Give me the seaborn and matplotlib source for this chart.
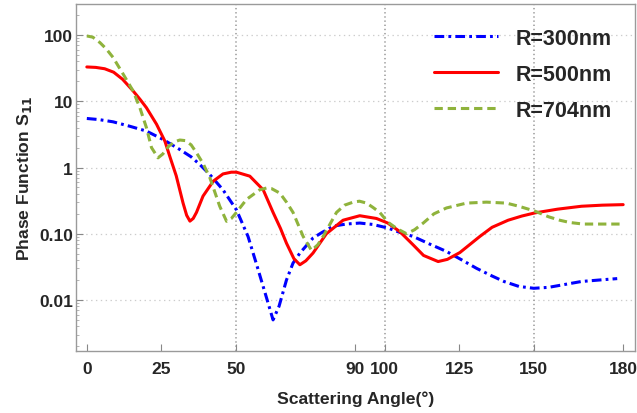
import numpy as np
import pandas as pd
import seaborn as sns
import matplotlib.pyplot as plt
from matplotlib.ticker import FixedLocator, LogLocator, NullFormatter

# data
ang_300 = [0, 4, 8.8, 14.4, 20, 25.6, 31.2, 35, 38, 41.3, 45.7, 50.2, 54.1, 57, 60, 62.5, 64.5,
           67, 69.2, 71.5, 75.9, 79, 82.7, 87, 91.6, 96, 101, 105, 109.5, 115, 120.7, 125.5,
           130.8, 136, 140, 145, 150, 155, 160, 166, 172, 178]
s11_300 = [5.5, 5.3, 4.9, 4.2, 3.55, 2.65, 1.87, 1.45, 1.1, 0.78, 0.46, 0.23, 0.091, 0.034,
           0.012, 0.005, 0.008, 0.02, 0.036, 0.051, 0.086, 0.105, 0.13, 0.14, 0.145, 0.138,
           0.122, 0.105, 0.091, 0.07, 0.054, 0.041, 0.030, 0.023, 0.019, 0.016, 0.015, 0.0155,
           0.017, 0.019, 0.020, 0.021]

ang_500 = [0, 3, 6, 9, 12, 15.5, 18, 20, 23.4, 26.2, 28, 30, 32.3, 33.5, 34.6, 35.7, 36.8, 39,
           42.4, 45.7, 48.5, 50.2, 54.7, 59.2, 62.5, 65, 67, 69.5, 71.5, 73.5, 75.9, 80.4, 86,
           91.6, 97.2, 101, 105, 109.5, 113, 117.9, 121, 125.2, 131.9, 136, 141.4, 146, 150.3,
           158, 166, 173, 180]
s11_500 = [33, 32.5, 31, 27.5, 21.5, 14.4, 10.5, 8.0, 4.5, 2.5, 1.4, 0.75, 0.29, 0.19, 0.155,
           0.17, 0.21, 0.37, 0.62, 0.80, 0.85, 0.85, 0.74, 0.46, 0.21, 0.12, 0.072, 0.042, 0.034,
           0.039, 0.051, 0.10, 0.16, 0.187, 0.17, 0.145, 0.108, 0.068, 0.047, 0.038, 0.041,
           0.052, 0.091, 0.125, 0.16, 0.185, 0.206, 0.235, 0.26, 0.27, 0.275]

ang_704 = [0, 2, 4.4, 6.5, 8.8, 12.2, 15.5, 17.8, 20, 21.7, 23.9, 25.5, 27.5, 29.5, 31.2, 33,
           35, 36.8, 39, 41.3, 43, 44.6, 46.9, 48.5, 50.2, 53.6, 58, 60.3, 62, 64.8, 67, 69.2,
           72.6, 75.4, 77.5, 79.3, 83.8, 86.5, 89.4, 91.5, 93.9, 96, 98.3, 101, 104, 107.3, 110,
           112.9, 116.5, 120.7, 127.4, 134.1, 140.8, 145, 150.3, 155, 158.7, 162, 166.5, 172, 179]
s11_704 = [97, 93, 77, 62, 46, 25.7, 14.4, 8.0, 4.0, 2.0, 1.4, 1.6, 2.1, 2.45, 2.6, 2.55, 2.2,
           1.67, 1.15, 0.70, 0.42, 0.26, 0.154, 0.17, 0.21, 0.33, 0.46, 0.49, 0.48, 0.41, 0.30,
           0.21, 0.091, 0.056, 0.068, 0.091, 0.21, 0.27, 0.30, 0.31, 0.29, 0.25, 0.21, 0.15,
           0.12, 0.10, 0.115, 0.145, 0.20, 0.245, 0.29, 0.30, 0.29, 0.26, 0.22, 0.18, 0.16,
           0.148, 0.14, 0.14, 0.14]

labels = ["R=300nm", "R=500nm", "R=704nm"]
x_ticks = [0, 25, 50, 90, 100, 125, 150, 180]
y_ticks = [0.01, 0.1, 1, 10, 100]
y_tick_labels = ["0.01", "0.10", "1", "10", "100"]

df = pd.concat([
    pd.DataFrame({"angle": ang_300, "s11": s11_300, "radius": labels[0]}),
    pd.DataFrame({"angle": ang_500, "s11": s11_500, "radius": labels[1]}),
    pd.DataFrame({"angle": ang_704, "s11": s11_704, "radius": labels[2]}),
])

sns.set_style("white")
plt.rcParams['font.family'] = ['Liberation Sans', 'DejaVu Sans']
plt.rcParams['font.weight'] = 'bold'
plt.rcParams['lines.scale_dashes'] = False

fig, ax = plt.subplots(figsize=(6.37, 4.14), dpi=100)
fig.subplots_adjust(left=0.119, right=0.997, bottom=0.150, top=0.988)

palette = {labels[0]: "#0000ff", labels[1]: "#ff0000", labels[2]: "#8fb33c"}
dashes = {labels[0]: (7, 3, 2, 3), labels[1]: "", labels[2]: (6, 3.5)}
sns.lineplot(data=df, x="angle", y="s11", hue="radius", style="radius",
             palette=palette, dashes=dashes, linewidth=2.2, ax=ax, sort=False)

ax.set_yscale("log")
ax.set_xlim(-3.7, 184)
ax.set_ylim(0.0017, 295)

ax.xaxis.set_major_locator(FixedLocator(x_ticks))
ax.set_xticklabels([str(t) for t in x_ticks])
ax.set_yticks(y_ticks)
ax.set_yticklabels(y_tick_labels)
ax.yaxis.set_minor_locator(LogLocator(base=10, subs=np.arange(2, 10)))
ax.yaxis.set_minor_formatter(NullFormatter())

ax.tick_params(axis="both", which="major", direction="in", length=5, width=0.8,
               color="#888888", labelsize=12.5)
ax.tick_params(axis="x", pad=7.5, bottom=True)
ax.tick_params(axis="y", pad=2, left=True)
ax.tick_params(axis="y", which="minor", direction="in", length=2.5, width=0.6,
               color="#aaaaaa", left=True)

for sp in ax.spines.values():
    sp.set_color("#9a9a9a")
    sp.set_linewidth(1.0)

# grid: horizontal decades, vertical at 50/100/150
for yv in y_ticks:
    ax.axhline(yv, color="#cccccc", linestyle=(0, (1, 2.5)), linewidth=0.9, zorder=0)
for xv in [50, 100, 150]:
    ax.axvline(xv, color="#999999", linestyle=(0, (1, 2)), linewidth=1.1, zorder=0)

ax.set_xlabel("Scattering Angle(°)", fontsize=12.6, fontweight="bold", labelpad=10)
ax.set_ylabel("Phase Function S$_{\\mathbf{11}}$", fontsize=12.6, fontweight="bold", labelpad=4)

leg = ax.legend(loc="upper right", frameon=False, handlelength=3.0,
                labelspacing=0.7, handletextpad=0.8, bbox_to_anchor=(0.993, 0.988),
                prop={"weight": "bold", "size": 15.5})
for line in leg.get_lines():
    line.set_linewidth(2.2)

fig.savefig("out.png", dpi=100)
